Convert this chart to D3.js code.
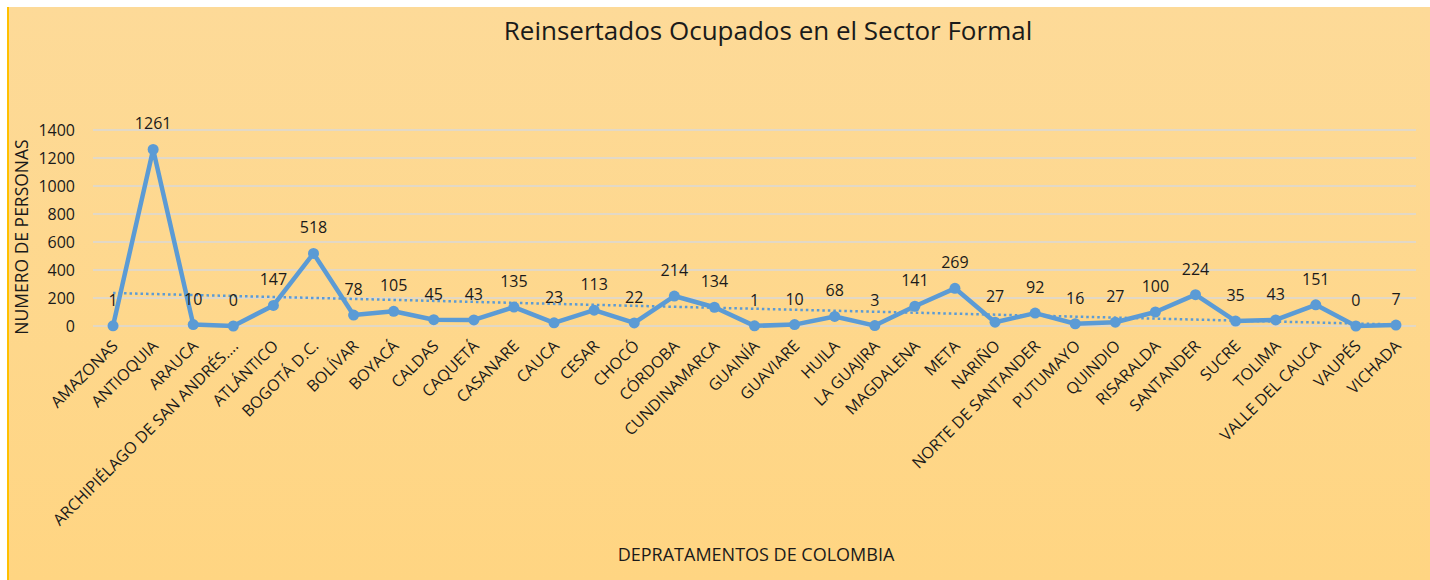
<!DOCTYPE html>
<html lang="es">
<head>
<meta charset="UTF-8">
<script src="https://d3js.org/d3.v7.min.js"></script>
<title>Reinsertados Ocupados</title>
<style>
  body { margin: 0; background: #fff; }
  text { font-family: "Open Sans", "DejaVu Sans", sans-serif; fill: #1a1a1a; }
</style>
</head>
<body>
<script>
var w = 1430, h = 580;

// departamentos
var departamentos = ["AMAZONAS", "ANTIOQUIA", "ARAUCA", "ARCHIPIÉLAGO DE SAN ANDRÉS....", "ATLÁNTICO",
  "BOGOTÁ D.C.", "BOLÍVAR", "BOYACÁ", "CALDAS", "CAQUETÁ", "CASANARE", "CAUCA", "CESAR", "CHOCÓ",
  "CÓRDOBA", "CUNDINAMARCA", "GUAINÍA", "GUAVIARE", "HUILA", "LA GUAJIRA", "MAGDALENA", "META",
  "NARIÑO", "NORTE DE SANTANDER", "PUTUMAYO", "QUINDIO", "RISARALDA", "SANTANDER", "SUCRE",
  "TOLIMA", "VALLE DEL CAUCA", "VAUPÉS", "VICHADA"];
// reinsertados ocupados
var ocupados = [1, 1261, 10, 0, 147, 518, 78, 105, 45, 43, 135, 23, 113, 22, 214, 134, 1, 10, 68,
  3, 141, 269, 27, 92, 16, 27, 100, 224, 35, 43, 151, 0, 7];
var yTicks = [0, 200, 400, 600, 800, 1000, 1200, 1400];

var svg = d3.select("body").append("svg").attr("width", w).attr("height", h);

// fondo con degradado
var grad = svg.append("defs").append("linearGradient")
  .attr("id", "bg").attr("x1", 0).attr("y1", 0).attr("x2", 0).attr("y2", 1);
grad.append("stop").attr("offset", "0%").attr("stop-color", "#FDDA98");
grad.append("stop").attr("offset", "100%").attr("stop-color", "#FFD582");

svg.append("rect").attr("x", 7).attr("y", 7).attr("width", w - 7).attr("height", h - 7)
  .attr("fill", "url(#bg)");
svg.append("line").attr("x1", 8).attr("x2", 8).attr("y1", 7).attr("y2", h)
  .attr("stroke", "#FFC000").attr("stroke-width", 2);

var x = d3.scaleBand().domain(departamentos).range([93, 1416]);
var y = d3.scaleLinear().domain([0, 1400]).range([326, 130]);
var cx = function(d) { return x(d) + x.bandwidth() / 2; };

// lineas de la grilla
svg.append("g").selectAll("line").data(yTicks).enter().append("line")
  .attr("x1", 93).attr("x2", 1416)
  .attr("y1", function(d) { return y(d); })
  .attr("y2", function(d) { return y(d); })
  .attr("stroke", "#D9D9D9").attr("stroke-width", 1.5);

// eje y
var yAxis = svg.append("g").attr("transform", "translate(75,0)")
  .call(d3.axisLeft(y).tickValues(yTicks).tickFormat(d3.format("d")).tickSize(0).tickPadding(0));
yAxis.select(".domain").remove();
yAxis.selectAll("text").style("font-size", "16px").attr("dy", "0.35em");

// eje x
var xAxis = svg.append("g").attr("transform", "translate(0,326)")
  .call(d3.axisBottom(x).tickSize(0));
xAxis.select(".domain").remove();
xAxis.selectAll("text")
  .style("font-size", "16px")
  .attr("text-anchor", "end")
  .attr("dy", 0).attr("dx", 0)
  .attr("transform", "translate(6,21) rotate(-45)")
  .attr("y", 0);

// linea de tendencia (minimos cuadrados)
var n = ocupados.length;
var mx = d3.mean(d3.range(n)), my = d3.mean(ocupados);
var sxy = d3.sum(ocupados, function(v, i) { return (i - mx) * (v - my); });
var sxx = d3.sum(d3.range(n), function(i) { return (i - mx) * (i - mx); });
var m = sxy / sxx, b = my - m * mx;
svg.append("line")
  .attr("x1", cx(departamentos[0])).attr("x2", cx(departamentos[n - 1]))
  .attr("y1", y(b)).attr("y2", y(b + m * (n - 1)))
  .attr("stroke", "#5B9BD5").attr("stroke-width", 2.5)
  .attr("stroke-dasharray", "2.5,3");

// serie
var line = d3.line()
  .x(function(d, i) { return cx(departamentos[i]); })
  .y(function(d) { return y(d); });
svg.append("path").datum(ocupados).attr("d", line)
  .attr("fill", "none").attr("stroke", "#5B9BD5").attr("stroke-width", 4.5)
  .attr("stroke-linejoin", "round");

svg.append("g").selectAll("circle").data(ocupados).enter().append("circle")
  .attr("cx", function(d, i) { return cx(departamentos[i]); })
  .attr("cy", function(d) { return y(d); })
  .attr("r", 5.5).attr("fill", "#5B9BD5");

// etiquetas de datos
svg.append("g").selectAll("text").data(ocupados).enter().append("text")
  .attr("x", function(d, i) { return cx(departamentos[i]); })
  .attr("y", function(d) { return y(d) - 20; })
  .attr("text-anchor", "middle")
  .style("font-size", "16px")
  .text(function(d) { return d; });

// titulos
svg.append("text").attr("x", 768).attr("y", 40).attr("text-anchor", "middle")
  .style("font-size", "26px").text("Reinsertados Ocupados en el Sector Formal");

svg.append("text").attr("transform", "translate(28,237) rotate(-90)")
  .attr("text-anchor", "middle").style("font-size", "17.5px").text("NUMERO DE PERSONAS");

svg.append("text").attr("x", 756).attr("y", 561).attr("text-anchor", "middle")
  .style("font-size", "18px").text("DEPRATAMENTOS DE COLOMBIA");
</script>
</body>
</html>
